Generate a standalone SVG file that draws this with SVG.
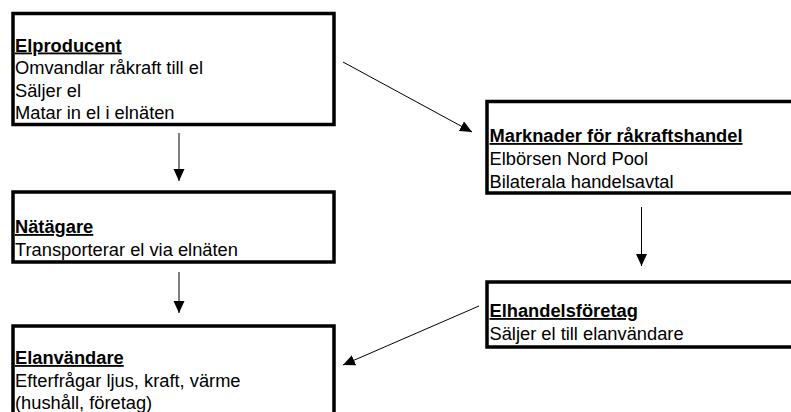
<svg xmlns="http://www.w3.org/2000/svg" width="791" height="412" viewBox="0 0 791 412">
<style>
.box{fill:#fff;stroke:#000;stroke-width:3.5}
.t{font-family:"Liberation Sans",Arial,sans-serif;font-size:18.3px;fill:#000}
.h{font-weight:bold;text-decoration:underline}
.c{stroke:#000;stroke-width:1;fill:none;marker-end:url(#ah)}
</style>
<defs>
<marker id="ah" markerUnits="userSpaceOnUse" markerWidth="13" markerHeight="12" refX="12" refY="5.5" orient="auto">
<path d="M0,0 L12,5.5 L0,11 z" fill="#000"/>
</marker>
</defs>
<rect width="791" height="412" fill="#fff"/>
<g id="connectors">
<line class="c" x1="179" y1="133" x2="179" y2="181"/>
<line class="c" x1="179" y1="272" x2="179" y2="313"/>
<line class="c" x1="343" y1="62" x2="472" y2="132"/>
<line class="c" x1="641.5" y1="207" x2="641.5" y2="266"/>
<line class="c" x1="479" y1="306" x2="343" y2="365"/>
</g>
<g id="elproducent">
<rect class="box" x="13" y="13.5" width="321" height="111"/>
<text class="t h" x="15" y="51.5">Elproducent</text>
<text class="t" x="15" y="74">Omvandlar råkraft till el</text>
<text class="t" x="15" y="96.5">Säljer el</text>
<text class="t" x="15" y="119">Matar in el i elnäten</text>
</g>
<g id="marknader">
<rect class="box" x="487" y="101.5" width="330" height="91.5"/>
<text class="t h" x="489.5" y="142">Marknader för råkraftshandel</text>
<text class="t" x="489.5" y="165">Elbörsen Nord Pool</text>
<text class="t" x="489.5" y="188">Bilaterala handelsavtal</text>
</g>
<g id="natagare">
<rect class="box" x="13" y="192" width="321" height="70"/>
<text class="t h" x="15" y="233">Nätägare</text>
<text class="t" x="15" y="255.5">Transporterar el via elnäten</text>
</g>
<g id="elhandelsforetag">
<rect class="box" x="487" y="282" width="330" height="65"/>
<text class="t h" x="489.5" y="317">Elhandelsföretag</text>
<text class="t" x="489.5" y="339.5">Säljer el till elanvändare</text>
</g>
<g id="elanvandare">
<rect class="box" x="13" y="326" width="321" height="100"/>
<text class="t h" x="15" y="364">Elanvändare</text>
<text class="t" x="15" y="386.5">Efterfrågar ljus, kraft, värme</text>
<text class="t" x="15" y="409">(hushåll, företag)</text>
</g>
</svg>
